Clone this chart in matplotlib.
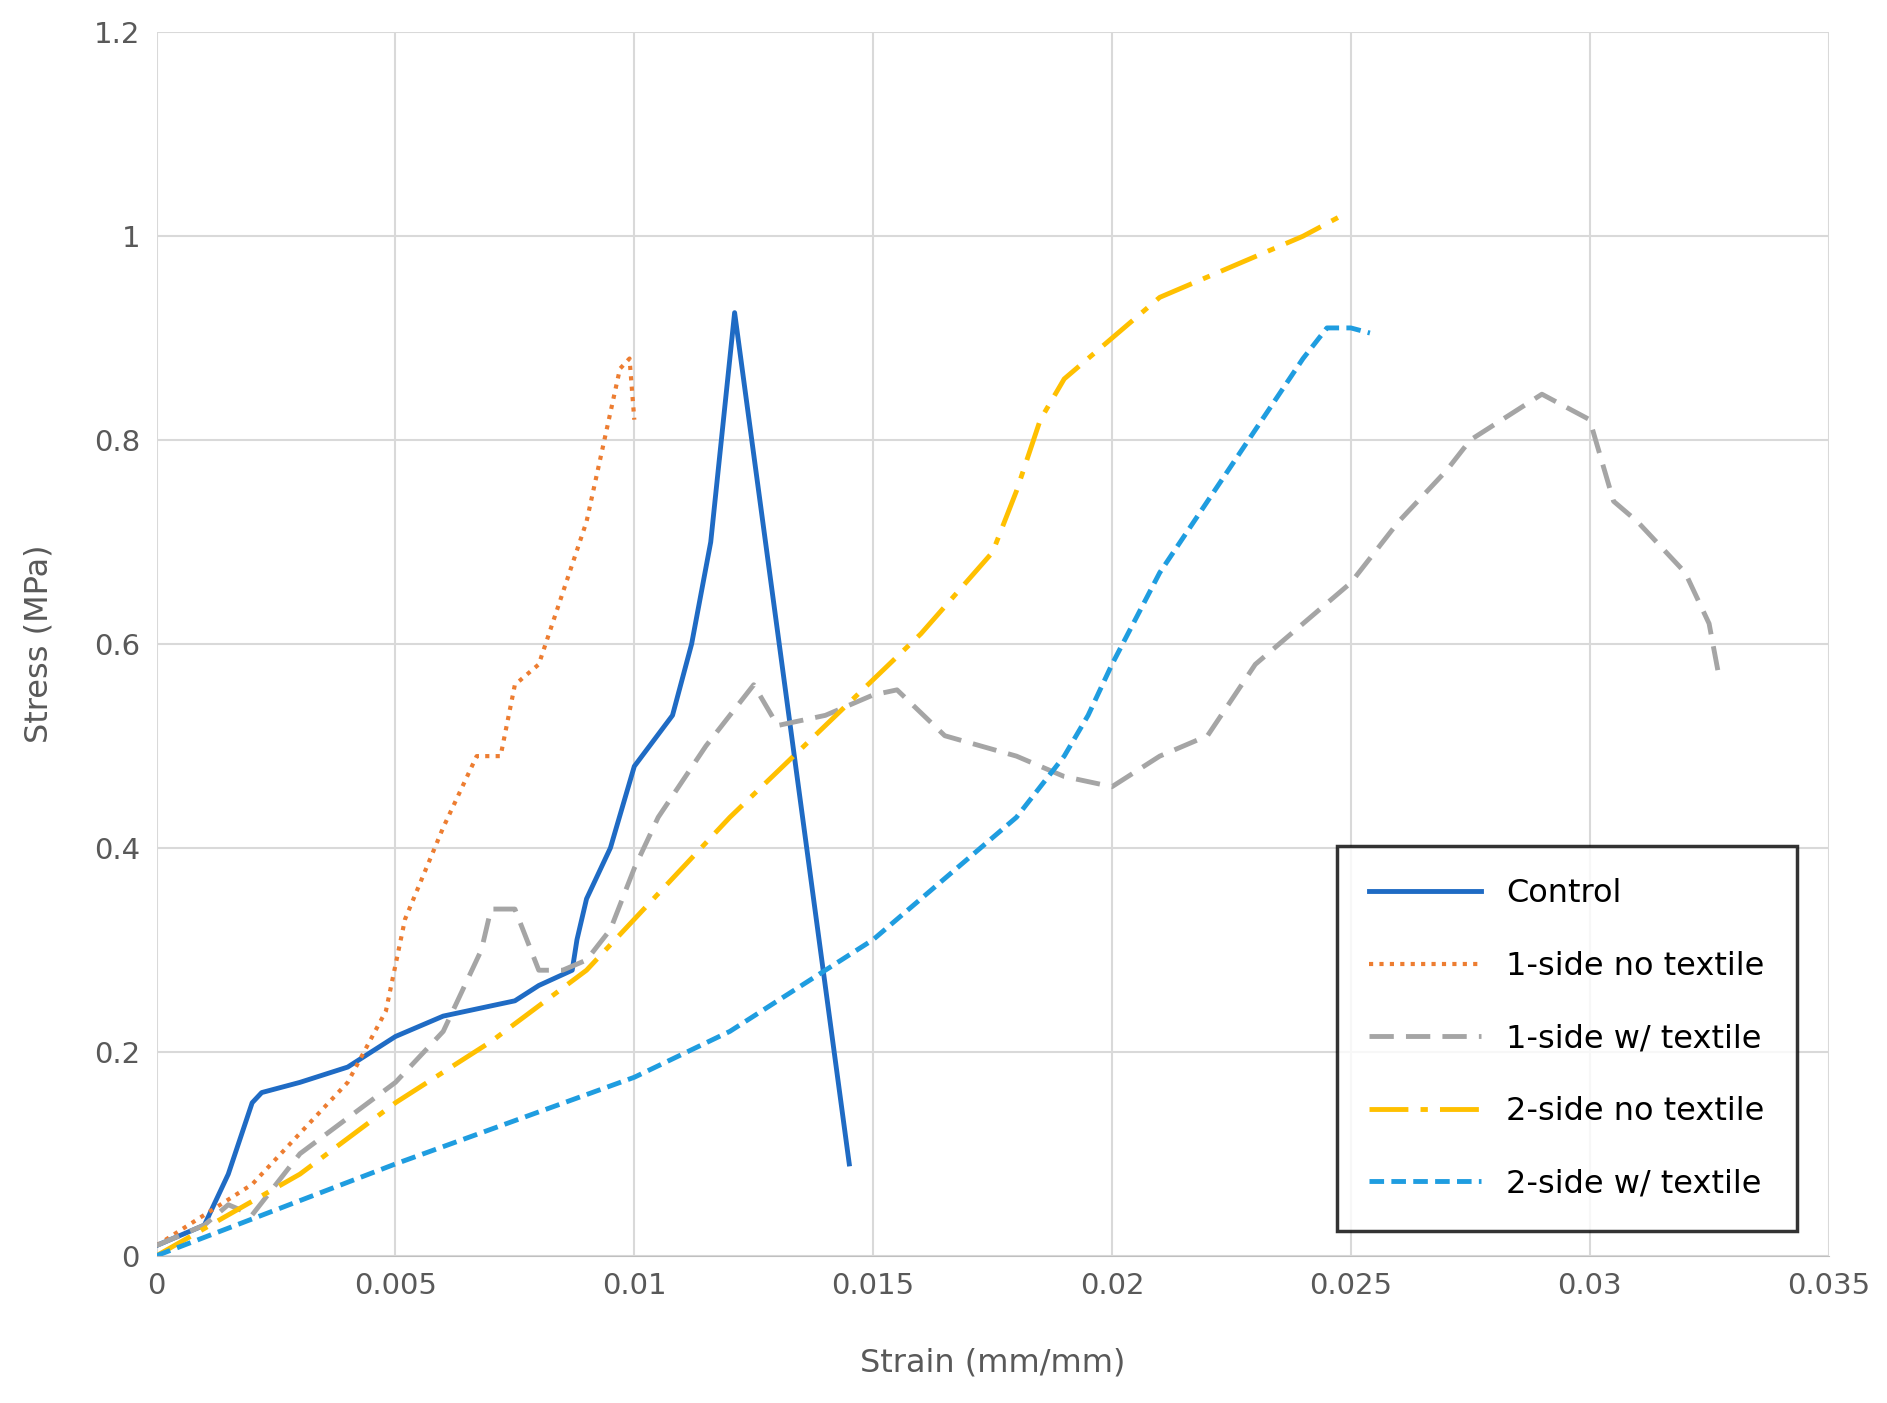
import matplotlib
matplotlib.use("Agg")
import matplotlib.pyplot as plt

ctrl_x = [0, 0.001, 0.0015, 0.002, 0.0022, 0.003, 0.004, 0.005, 0.006, 0.007, 0.0075, 0.008, 0.0087,
          0.0088, 0.009, 0.0095, 0.01, 0.0108, 0.0112, 0.0116, 0.012, 0.0121, 0.0145]
ctrl_y = [0.01, 0.03, 0.08, 0.15, 0.16, 0.17, 0.185, 0.215, 0.235, 0.245, 0.25, 0.265, 0.28,
          0.31, 0.35, 0.4, 0.48, 0.53, 0.6, 0.7, 0.88, 0.925, 0.09]
ont_x = [0, 0.002, 0.004, 0.0048, 0.0052, 0.006, 0.0067, 0.0072, 0.0075, 0.008, 0.009, 0.0097, 0.0099, 0.01]
ont_y = [0.01, 0.07, 0.17, 0.24, 0.33, 0.42, 0.49, 0.49, 0.56, 0.58, 0.72, 0.87, 0.88, 0.82]
owt_x = [0, 0.001, 0.0015, 0.002, 0.003, 0.005, 0.006, 0.0068, 0.007, 0.0075, 0.008, 0.0085, 0.009,
         0.0095, 0.01, 0.0105, 0.0115, 0.0125, 0.013, 0.014, 0.015, 0.0155, 0.0165, 0.018, 0.019,
         0.02, 0.021, 0.0215, 0.022, 0.023, 0.024, 0.025, 0.026, 0.027, 0.0275, 0.029, 0.03,
         0.0305, 0.031, 0.032, 0.0325, 0.0327]
owt_y = [0.01, 0.03, 0.05, 0.04, 0.1, 0.17, 0.22, 0.3, 0.34, 0.34, 0.28, 0.28, 0.29,
         0.32, 0.38, 0.43, 0.5, 0.56, 0.52, 0.53, 0.55, 0.555, 0.51, 0.49, 0.47,
         0.46, 0.49, 0.5, 0.51, 0.58, 0.62, 0.66, 0.72, 0.77, 0.8, 0.845, 0.82,
         0.74, 0.72, 0.67, 0.62, 0.57]
tnt_x = [0, 0.003, 0.005, 0.007, 0.009, 0.01, 0.012, 0.014, 0.016, 0.0175, 0.018, 0.0185, 0.019,
         0.02, 0.021, 0.022, 0.023, 0.024, 0.0248]
tnt_y = [0.0, 0.08, 0.15, 0.21, 0.28, 0.33, 0.43, 0.52, 0.61, 0.69, 0.75, 0.82, 0.86,
         0.9, 0.94, 0.96, 0.98, 1.0, 1.02]
twt_x = [0, 0.005, 0.01, 0.012, 0.014, 0.015, 0.016, 0.017, 0.018, 0.019, 0.0195, 0.02, 0.021,
         0.022, 0.023, 0.024, 0.0245, 0.025, 0.0254]
twt_y = [0, 0.09, 0.175, 0.22, 0.28, 0.31, 0.35, 0.39, 0.43, 0.49, 0.53, 0.58, 0.67,
         0.74, 0.81, 0.88, 0.91, 0.91, 0.905]

fig = plt.figure(figsize=(18.87, 14.03), dpi=100)
ax = fig.add_axes([0.083, 0.105, 0.886, 0.872])
ax.plot(ctrl_x, ctrl_y, color="#1F6BC4", lw=3.5, label="Control")
ax.plot(ont_x, ont_y, color="#ED7D31", lw=3, ls=(0, (1, 1.5)), label="1-side no textile")
ax.plot(owt_x, owt_y, color="#A5A5A5", lw=3.5, ls=(0, (5, 2.5)), label="1-side w/ textile")
ax.plot(tnt_x, tnt_y, color="#FFC000", lw=3.5, ls=(0, (8, 2.5, 1.5, 2.5)), label="2-side no textile")
ax.plot(twt_x, twt_y, color="#1F9DE0", lw=3.5, ls=(0, (3, 1.5)), label="2-side w/ textile")

ax.set_xlim(0, 0.035)
ax.set_ylim(0, 1.2)
ax.set_xticks([0, 0.005, 0.01, 0.015, 0.02, 0.025, 0.03, 0.035])
ax.set_xticklabels(["0", "0.005", "0.01", "0.015", "0.02", "0.025", "0.03", "0.035"])
ax.set_yticks([0, 0.2, 0.4, 0.6, 0.8, 1.0, 1.2])
ax.set_yticklabels(["0", "0.2", "0.4", "0.6", "0.8", "1", "1.2"])
ax.grid(color="#D9D9D9", lw=1.5)
ax.set_axisbelow(True)
for s in ["top", "right", "left"]:
    ax.spines[s].set_visible(False)
ax.spines["bottom"].set_color("#BFBFBF")
ax.tick_params(length=0, labelsize=21, colors="#595959", pad=12)
ax.set_xlabel("Strain (mm/mm)", fontsize=23, color="#595959", labelpad=34)
ax.set_ylabel("Stress (MPa)", fontsize=23, color="#595959", labelpad=28)
leg = ax.legend(loc="lower right", bbox_to_anchor=(0.981, 0.02), borderaxespad=0, fontsize=23,
                frameon=True, fancybox=False, edgecolor="black", handlelength=3.5,
                labelspacing=1.3, borderpad=1.0)
leg.get_frame().set_linewidth(2.5)
fig.savefig("out.png", dpi=100)
